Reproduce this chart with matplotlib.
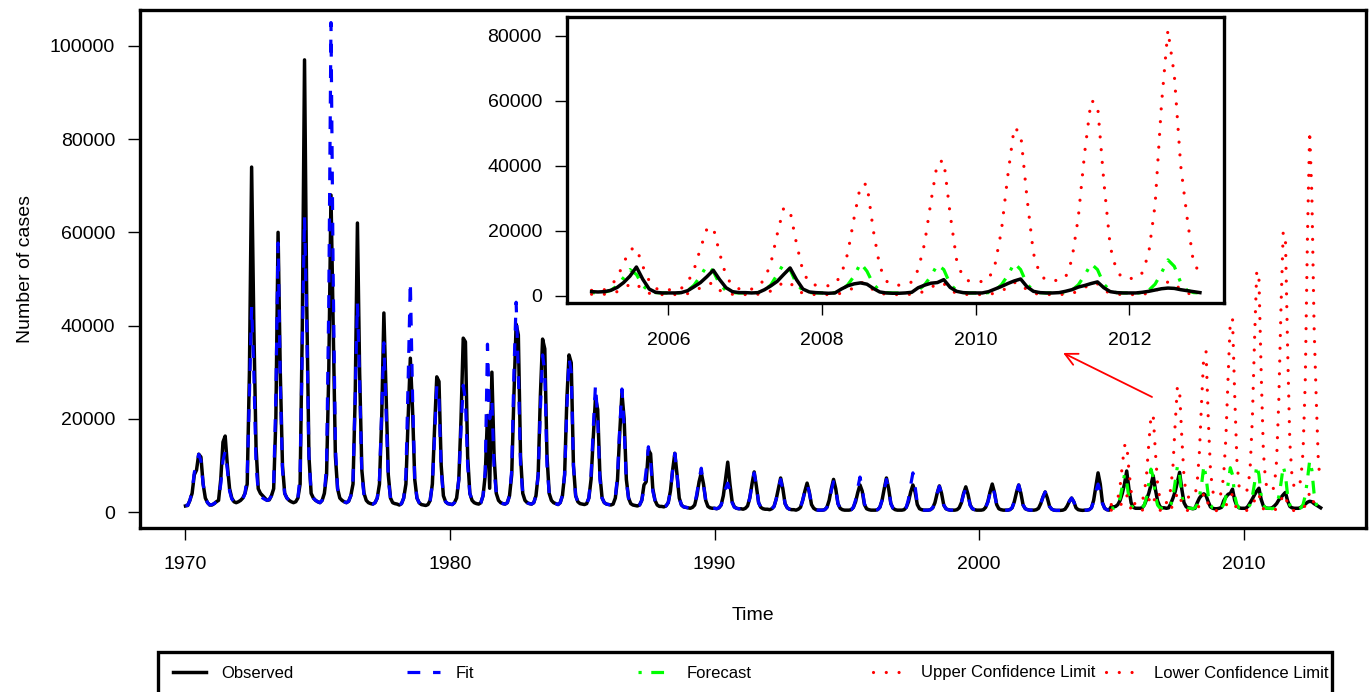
import numpy as np
import matplotlib
matplotlib.use("Agg")
import matplotlib.pyplot as plt
from matplotlib.lines import Line2D
from matplotlib.patches import Rectangle

plt.rcParams['font.family'] = ['Liberation Sans', 'DejaVu Sans']
plt.rcParams['font.size'] = 14

# monthly case counts, one row per year (Jan..Dec)
observed = [
    [1300, 1400, 2500, 4000, 8000, 9000, 12400, 11800, 6000, 3000, 2000, 1500],      # 1970
    [1500, 1800, 2200, 2500, 7000, 15000, 16300, 10000, 5000, 3000, 2200, 2000],     # 1971
    [2200, 2500, 3000, 4000, 6000, 30000, 74000, 40000, 14000, 5000, 4000, 3500],    # 1972
    [3000, 2500, 2600, 3500, 5000, 20000, 60000, 30000, 10000, 4000, 3000, 2500],    # 1973
    [2200, 2000, 2200, 3000, 6000, 40000, 97000, 45000, 12000, 4000, 3000, 2500],    # 1974
    [2200, 2000, 2500, 4000, 8000, 30000, 68000, 40000, 12000, 5000, 3000, 2500],    # 1975
    [2200, 2000, 2300, 3500, 6000, 25000, 62000, 30000, 9000, 4000, 2500, 2000],     # 1976
    [1800, 1700, 2000, 3000, 6000, 20000, 42700, 25000, 8000, 3000, 2000, 1800],     # 1977
    [1700, 1500, 1800, 3000, 6000, 20000, 33000, 22000, 7000, 3000, 2000, 1600],     # 1978
    [1500, 1400, 1600, 2500, 6000, 18000, 29000, 28000, 10000, 3500, 2200, 1800],    # 1979
    [1700, 1600, 2000, 3000, 7000, 20000, 37300, 36500, 12000, 4000, 2500, 2000],    # 1980
    [1800, 1700, 2000, 3500, 8000, 20700, 5100, 30000, 12000, 4000, 2500, 2000],     # 1981
    [1800, 1700, 2000, 3500, 8000, 25000, 40300, 38000, 12000, 4000, 2500, 2000],    # 1982
    [1800, 1700, 2000, 3500, 8000, 25000, 37100, 35000, 12000, 4000, 2500, 2000],    # 1983
    [1800, 1600, 2000, 3500, 8000, 24000, 33700, 32000, 10000, 3500, 2200, 1800],    # 1984
    [1700, 1600, 1800, 3000, 7000, 16000, 24500, 22000, 8000, 3000, 2000, 1700],     # 1985
    [1600, 1500, 1700, 3000, 7000, 17000, 25500, 20000, 7000, 3000, 1800, 1500],     # 1986
    [1400, 1300, 1500, 2500, 5800, 6500, 13300, 12500, 5000, 2500, 1500, 1200],      # 1987
    [1200, 1100, 1300, 2000, 4500, 9000, 12600, 8000, 3000, 1500, 1100, 1000],       # 1988
    [900, 800, 1000, 1500, 3500, 6500, 8400, 6000, 2500, 1200, 900, 800],            # 1989
    [800, 700, 900, 1500, 3500, 7000, 10700, 6000, 2200, 1100, 800, 700],            # 1990
    [700, 600, 800, 1300, 3000, 6000, 8600, 5500, 2000, 1000, 700, 600],             # 1991
    [600, 500, 700, 1200, 2800, 5000, 7300, 5000, 1800, 900, 600, 500],              # 1992
    [500, 400, 600, 1000, 2500, 4500, 6200, 4300, 1600, 800, 500, 400],              # 1993
    [400, 400, 500, 1000, 2500, 5000, 7000, 5000, 1800, 800, 500, 400],              # 1994
    [400, 400, 500, 1000, 2200, 4200, 5800, 4500, 1600, 700, 500, 400],              # 1995
    [400, 400, 500, 1000, 2500, 5000, 7300, 5000, 1800, 800, 500, 400],              # 1996
    [400, 400, 500, 1000, 2200, 4300, 5800, 4300, 1600, 700, 500, 400],              # 1997
    [400, 400, 500, 900, 2000, 4000, 5600, 4000, 1500, 700, 500, 400],               # 1998
    [400, 400, 500, 900, 2000, 4000, 5400, 3800, 1500, 700, 500, 400],               # 1999
    [400, 400, 500, 1000, 2200, 4300, 6000, 4200, 1600, 700, 500, 400],              # 2000
    [400, 400, 500, 900, 2200, 4200, 5800, 4000, 1500, 700, 500, 400],               # 2001
    [400, 400, 500, 800, 1800, 3200, 4300, 3000, 1200, 600, 400, 350],               # 2002
    [350, 350, 400, 600, 1300, 2300, 3000, 2200, 900, 500, 400, 350],                # 2003
    [400, 400, 500, 900, 2500, 5500, 8400, 6000, 2000, 800, 500, 400],               # 2004
    [1200, 1100, 1200, 1600, 2500, 4000, 6000, 8800, 5000, 2000, 1000, 800],         # 2005
    [800, 800, 900, 1500, 2700, 4000, 5800, 7800, 4900, 2400, 1200, 900],            # 2006
    [900, 800, 900, 1800, 3000, 4400, 6500, 8500, 4900, 2000, 1100, 900],            # 2007
    [800, 700, 800, 2000, 3000, 3600, 3900, 3500, 2200, 1100, 800, 700],             # 2008
    [700, 800, 1000, 2400, 3200, 3800, 4000, 4900, 2500, 1300, 900, 800],            # 2009
    [800, 800, 1200, 2000, 2800, 3700, 4500, 5100, 2700, 1300, 900, 800],            # 2010
    [800, 900, 1300, 1800, 2600, 3100, 3700, 4200, 2400, 1200, 900, 800],            # 2011
    [800, 800, 1000, 1300, 1700, 2100, 2300, 2200, 1800, 1500, 1200, 900],           # 2012
]

fit = [
    [1500, 1400, 2500, 4500, 8500, 10000, 12400, 11000, 6000, 3000, 2000, 1500],     # 1970
    [1600, 1800, 2200, 3000, 6000, 11000, 13000, 9000, 4500, 2800, 2200, 1900],      # 1971
    [2000, 2300, 2800, 4000, 8000, 25000, 44000, 30000, 10000, 4500, 3500, 3000],    # 1972
    [2700, 2500, 2700, 3500, 6000, 25000, 57700, 28000, 9000, 4000, 3000, 2500],     # 1973
    [2200, 2000, 2200, 3000, 8000, 35000, 63300, 40000, 12000, 4000, 3000, 2500],    # 1974
    [2200, 2000, 2500, 4000, 10000, 45000, 105000, 50000, 14000, 5000, 3000, 2500],  # 1975
    [2200, 2000, 2300, 3500, 7000, 25000, 44800, 28000, 8000, 3500, 2500, 2000],     # 1976
    [1800, 1700, 2000, 3000, 7000, 22000, 36300, 22000, 7000, 3000, 2000, 1800],     # 1977
    [1700, 1500, 1800, 3000, 8000, 28000, 49400, 25000, 7000, 3000, 2000, 1600],     # 1978
    [1500, 1400, 1600, 2500, 6000, 16000, 27000, 24000, 9000, 3500, 2200, 1800],     # 1979
    [1700, 1600, 2000, 3000, 7000, 18000, 27200, 24000, 10000, 4000, 2500, 2000],    # 1980
    [1800, 1700, 2000, 3500, 9000, 36000, 20000, 24000, 9000, 4000, 2500, 2000],     # 1981
    [1800, 1700, 2000, 3500, 9000, 30000, 45000, 30000, 10000, 4000, 2500, 2000],    # 1982
    [1800, 1700, 2000, 3500, 8000, 22000, 33700, 30000, 10000, 4000, 2500, 2000],    # 1983
    [1800, 1600, 2000, 3500, 8000, 22000, 33000, 30000, 10000, 3500, 2200, 1800],    # 1984
    [1700, 1600, 1800, 3000, 8000, 18000, 27300, 20000, 7000, 3000, 2000, 1700],     # 1985
    [1600, 1500, 1700, 3000, 8000, 18000, 26400, 18000, 6500, 3000, 1800, 1500],     # 1986
    [1400, 1300, 1500, 2500, 5000, 9000, 14000, 11000, 4500, 2500, 1500, 1200],      # 1987
    [1200, 1100, 1300, 2000, 4500, 9000, 12600, 8000, 3000, 1500, 1100, 1000],       # 1988
    [900, 800, 1000, 1600, 4000, 7000, 9400, 6000, 2500, 1200, 900, 800],            # 1989
    [800, 700, 900, 1500, 3000, 5000, 6200, 4500, 2000, 1000, 800, 700],             # 1990
    [700, 600, 800, 1300, 3000, 6000, 8400, 5500, 2000, 1000, 700, 600],             # 1991
    [600, 500, 700, 1200, 2800, 5000, 7000, 4800, 1800, 900, 600, 500],              # 1992
    [500, 400, 600, 1000, 2500, 4500, 6000, 4200, 1600, 800, 500, 400],              # 1993
    [400, 400, 500, 1000, 2400, 4600, 6500, 4800, 1800, 800, 500, 400],              # 1994
    [400, 400, 500, 1000, 2600, 5200, 7500, 5000, 1800, 800, 500, 400],              # 1995
    [400, 400, 500, 1000, 2500, 4800, 7000, 5000, 1800, 800, 500, 400],              # 1996
    [400, 400, 500, 1000, 2800, 5800, 8400, 5500, 1800, 800, 500, 400],              # 1997
    [400, 400, 500, 900, 2000, 4000, 5500, 4000, 1500, 700, 500, 400],               # 1998
    [400, 400, 500, 900, 2000, 3800, 5000, 3600, 1400, 700, 500, 400],               # 1999
    [400, 400, 500, 1000, 2100, 4000, 5500, 4000, 1500, 700, 500, 400],              # 2000
    [400, 400, 500, 900, 2200, 4200, 5800, 4000, 1500, 700, 500, 400],               # 2001
    [400, 400, 500, 800, 1800, 3200, 4300, 3000, 1200, 600, 400, 350],               # 2002
    [350, 350, 400, 600, 1300, 2300, 3000, 2200, 900, 500, 400, 350],                # 2003
    [400, 400, 500, 900, 2200, 4500, 6000, 4500, 1800, 800, 500, 400],               # 2004
]

forecast = [
    [900, 800, 1000, 1600, 3000, 5500, 8000, 6500, 3000, 1400, 900, 800],            # 2005
    [800, 700, 900, 1500, 3200, 6000, 9200, 7500, 3500, 1500, 900, 800],             # 2006
    [800, 700, 900, 1600, 3300, 6500, 9800, 8000, 3600, 1500, 900, 800],             # 2007
    [800, 700, 900, 1600, 3300, 6000, 10000, 7500, 3500, 1500, 900, 800],            # 2008
    [800, 700, 900, 1600, 3300, 6000, 9500, 8000, 3500, 1500, 900, 800],             # 2009
    [800, 700, 900, 1600, 3300, 6200, 10000, 8000, 3500, 1500, 900, 800],            # 2010
    [800, 700, 900, 1600, 3300, 6200, 9800, 8000, 3500, 1500, 900, 800],             # 2011
    [800, 700, 900, 1600, 3500, 7000, 11000, 9000, 4000, 1600, 900, 800],            # 2012
]

upper = [
    [1600, 1500, 1800, 3000, 5500, 10000, 14200, 14700, 9000, 4500, 2200, 1600],     # 2005
    [1800, 1700, 2200, 4000, 8000, 14500, 20500, 21000, 13000, 6000, 3000, 2100],    # 2006
    [2100, 2000, 2800, 5000, 10000, 19000, 27000, 26000, 16000, 7500, 3800, 3200],   # 2007
    [3200, 3000, 3500, 6500, 13000, 24000, 34000, 34400, 20000, 9000, 4500, 3200],   # 2008
    [3200, 3300, 4200, 8000, 16000, 29000, 41000, 41600, 25000, 11000, 5500, 4400],  # 2009
    [4400, 4300, 5000, 9500, 20000, 37000, 51800, 50000, 30000, 13000, 6500, 4700],  # 2010
    [4700, 4600, 5500, 11000, 24000, 44000, 60100, 59000, 35000, 15000, 7500, 5300], # 2011
    [5300, 5200, 7000, 13000, 28000, 59000, 81800, 68000, 40000, 24000, 10000, 7000],# 2012
]

lower = [
    [400, 300, 400, 600, 1200, 2200, 3500, 3700, 1500, 700, 400, 300],               # 2005
    [300, 300, 400, 600, 1300, 2400, 3600, 3800, 1600, 700, 400, 300],               # 2006
    [300, 300, 400, 700, 1400, 2600, 4200, 4000, 1700, 700, 400, 300],               # 2007
    [300, 300, 400, 700, 1400, 2500, 4000, 3800, 1600, 700, 400, 300],               # 2008
    [300, 300, 400, 700, 1300, 2400, 3800, 3700, 1600, 700, 400, 300],               # 2009
    [300, 300, 400, 700, 1400, 2500, 4000, 3800, 1600, 700, 400, 300],               # 2010
    [300, 300, 400, 700, 1300, 2400, 3800, 3600, 1600, 700, 400, 300],               # 2011
    [300, 300, 400, 700, 1400, 2600, 4200, 3900, 1700, 700, 400, 300],               # 2012
]

obs = np.array(observed, dtype=float).ravel()
fitted = np.array(fit, dtype=float).ravel()
fc = np.array(forecast, dtype=float).ravel()
ucl = np.array(upper, dtype=float).ravel()
lcl = np.array(lower, dtype=float).ravel()

t_obs = 1970 + np.arange(len(obs)) / 12
t_fit = 1970 + np.arange(len(fitted)) / 12
t_fc = 2005 + np.arange(len(fc)) / 12

lw = 2.3
styles = {
    'obs': dict(color='black', lw=lw + 0.2, ls='-'),
    'fit': dict(color='#0000FF', lw=lw, ls=(0, (4, 4))),
    'fc': dict(color='#00FF00', lw=lw, ls=(0, (1, 3, 4, 3))),
    'ci': dict(color='#FF0000', lw=lw, ls=(0, (0.01, 3.99)), dash_capstyle='round'),
}

fig = plt.figure(figsize=(13.69, 6.92), dpi=100)

# main panel
ax = fig.add_axes([140 / 1369, 1 - 528 / 692, 1226 / 1369, 518 / 692])
ax.plot(t_obs, obs, **styles['obs'])
ax.plot(t_fit, fitted, **styles['fit'])
ax.plot(t_fc, fc, **styles['fc'])
ax.plot(t_fc, ucl, **styles['ci'])
ax.plot(t_fc, lcl, **styles['ci'])
ax.set_xlim(1968.28, 2014.63)
ax.set_ylim(-3430, 107700)
ax.set_xticks(np.arange(1970, 2011, 10))
ax.set_yticks(np.arange(0, 100001, 20000))
ax.tick_params(axis='x', length=8.5, width=1, pad=11.5)
ax.tick_params(axis='y', length=8.5, width=1, pad=9.5)
ax.set_xlabel('Time', labelpad=25)
ax.set_ylabel('Number of cases', labelpad=11)
for s in ax.spines.values():
    s.set_linewidth(2.4)

ax.annotate('', xy=(2003.18, 34120), xytext=(2006.54, 24680),
            arrowprops=dict(arrowstyle='->', color='#FF0000', lw=1.3,
                            mutation_scale=22, shrinkA=0, shrinkB=0))

# inset with the forecast period
axi = fig.add_axes([567 / 1369, 1 - 303 / 692, 657 / 1369, 286 / 692])
axi.plot(t_fc, fc, **styles['fc'])
axi.plot(t_fc, ucl, **styles['ci'])
axi.plot(t_fc, lcl, **styles['ci'])
axi.plot(t_fc, obs[-len(fc):], **styles['obs'])
axi.set_xlim(2004.68, 2013.23)
axi.set_ylim(-2300, 85850)
axi.set_xticks(np.arange(2006, 2013, 2))
axi.set_yticks(np.arange(0, 80001, 20000))
axi.tick_params(axis='x', length=8.5, width=1, pad=12.5)
axi.tick_params(axis='y', length=8.5, width=1, pad=9.5)
for s in axi.spines.values():
    s.set_linewidth(2.4)

# legend along the bottom, evenly spaced like the R horizontal legend
labels = ['Observed', 'Fit', 'Forecast', 'Upper Confidence Limit', 'Lower Confidence Limit']
keys = ['obs', 'fit', 'fc', 'ci', 'ci']
starts = [173, 407, 638, 873, 1106]
for lab, key, x0 in zip(labels, keys, starts):
    h = Line2D([], [], **styles[key])
    fig.legend(handles=[h], labels=[lab], loc='center left',
               bbox_to_anchor=(x0 / 1369, 1 - 673 / 692), frameon=False,
               borderpad=0, borderaxespad=0, handlelength=2.0,
               handletextpad=0.9, fontsize=12)
fig.patches.append(Rectangle((158 / 1369, -0.05), 1174 / 1369, 0.05 + 40 / 692,
                             transform=fig.transFigure, fill=False,
                             edgecolor='black', lw=2.4))

fig.savefig('out.png', dpi=100)
